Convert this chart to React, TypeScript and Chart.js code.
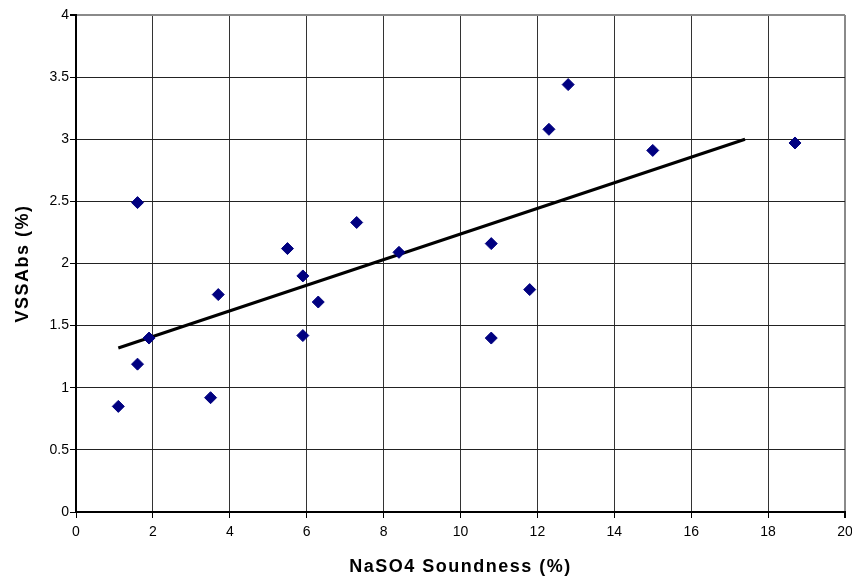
import React, { useEffect, useRef } from "react";
import { Chart, registerables } from "chart.js";

Chart.register(...registerables);

const soundness = [1.1, 1.6, 1.6, 1.9, 3.5, 3.7, 5.5, 5.9, 5.9, 6.3, 7.3, 8.4, 10.8, 10.8, 11.8, 12.3, 12.8, 15.0, 18.7];
const vssAbs = [0.85, 2.49, 1.19, 1.40, 0.92, 1.75, 2.12, 1.90, 1.42, 1.69, 2.33, 2.09, 2.16, 1.40, 1.79, 3.08, 3.44, 2.91, 2.97];
const trendX = [1.1, 17.4];
const trendY = [1.32, 3.0];
const xTicks = [0, 2, 4, 6, 8, 10, 12, 14, 16, 18, 20];
const yTicks = [0, 0.5, 1, 1.5, 2, 2.5, 3, 3.5, 4];

const FONT = "'Liberation Sans', Arial, sans-serif";

const letterSpacingPlugin = {
  id: "titleLetterSpacing",
  afterLayout(chart: any) {
    Object.values(chart.scales).forEach((scale: any) => {
      if (scale.__lsPatched) return;
      const orig = scale.drawTitle;
      scale.drawTitle = function (...args: any[]) {
        const ctx = this.ctx;
        ctx.save();
        (ctx as any).letterSpacing = "1.5px";
        orig.apply(this, args);
        ctx.restore();
      };
      scale.__lsPatched = true;
    });
  },
};

export default function App() {
  const ref = useRef<HTMLCanvasElement | null>(null);
  useEffect(() => {
    document.body.style.margin = "0";
    const points = soundness.map((x, i) => ({ x, y: vssAbs[i] }));
    const trend = trendX.map((x, i) => ({ x, y: trendY[i] }));
    const chart = new Chart(ref.current!, {
      type: "scatter",
      data: {
        datasets: [
          {
            label: "VSSAbs",
            data: points,
            pointStyle: "rectRot",
            pointRadius: 6,
            pointBackgroundColor: "#000080",
            pointBorderColor: "#000080",
            pointBorderWidth: 1,
            showLine: false,
            order: 1,
          },
          {
            label: "Trend",
            data: trend,
            showLine: true,
            borderColor: "#000000",
            borderWidth: 3,
            pointRadius: 0,
            order: 2,
          },
        ],
      },
      options: {
        responsive: false,
        animation: false,
        layout: { padding: { left: 0, right: 0, top: 15, bottom: 0 } },
        plugins: { legend: { display: false }, tooltip: { enabled: false } },
        scales: {
          x: {
            type: "linear",
            min: 0,
            max: 20,
            afterFit: (s: any) => {
              s.height = 70;
              s.paddingRight = 7;
              s.paddingLeft = 0;
            },
            afterBuildTicks: (s: any) => {
              s.ticks = xTicks.map((v) => ({ value: v }));
            },
            ticks: {
              color: "#000",
              font: { family: FONT, size: 14 },
              padding: 6,
              maxRotation: 0,
              callback: (v: any) => String(v),
            },
            grid: {
              color: (c: any) => (c.tick && c.tick.value === 20 ? "#8a8a8a" : "#333333"),
              lineWidth: (c: any) => (c.tick && c.tick.value === 20 ? 2 : 1),
              tickColor: "#000",
              tickLength: 6,
            },
            border: { color: "#000", width: 2 },
            title: {
              display: true,
              text: "NaSO4 Soundness (%)",
              color: "#000",
              font: { family: FONT, size: 18, weight: "bold" },
              padding: { top: 0, bottom: 4 },
            },
          },
          y: {
            type: "linear",
            min: 0,
            max: 4,
            afterFit: (s: any) => {
              s.width = 76;
              s.paddingTop = 0;
              s.paddingBottom = 0;
            },
            afterBuildTicks: (s: any) => {
              s.ticks = yTicks.map((v) => ({ value: v }));
            },
            ticks: {
              color: "#000",
              font: { family: FONT, size: 14 },
              padding: 1,
              callback: (v: any) => String(v),
            },
            grid: {
              color: (c: any) => (c.tick && c.tick.value === 4 ? "#8a8a8a" : "#222222"),
              lineWidth: (c: any) => (c.tick && c.tick.value === 4 ? 2 : 1),
              tickColor: "#000",
              tickLength: 6,
            },
            border: { color: "#000", width: 2 },
            title: {
              display: true,
              text: "VSSAbs (%)",
              color: "#000",
              font: { family: FONT, size: 18, weight: "bold" },
              padding: { top: 12, bottom: 0 },
            },
          },
        },
      },
      plugins: [letterSpacingPlugin],
    });
    return () => chart.destroy();
  }, []);
  return <canvas ref={ref} width={852} height={582} style={{ display: "block" }} />;
}
